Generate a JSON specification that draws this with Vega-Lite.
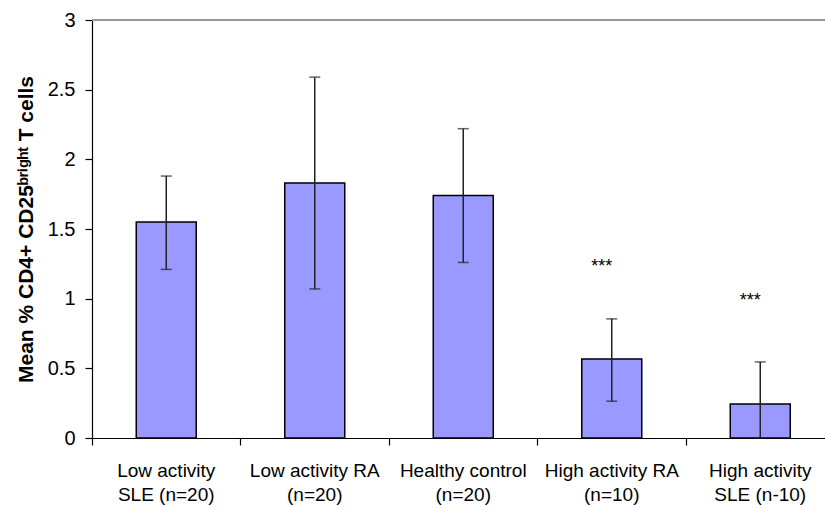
{
  "$schema": "https://vega.github.io/schema/vega-lite/v6.json",
  "autosize": "none",
  "width": 733,
  "height": 418,
  "padding": {"left": 92, "top": 20, "right": 0, "bottom": 70},
  "background": "white",
  "config": {
    "view": {"stroke": null},
    "font": "Liberation Sans",
    "axis": {"labelFont": "Liberation Sans", "titleFont": "Liberation Sans", "labelColor": "black", "titleColor": "black", "domainColor": "black", "tickColor": "black", "grid": false}
  },
  "data": {
    "values": [
      {"group": "Low activity|SLE (n=20)", "mean": 1.55, "lo": 1.21, "hi": 1.88, "sig": "", "sig_at": 0},
      {"group": "Low activity RA|(n=20)", "mean": 1.83, "lo": 1.07, "hi": 2.59, "sig": "", "sig_at": 0},
      {"group": "Healthy control|(n=20)", "mean": 1.74, "lo": 1.26, "hi": 2.22, "sig": "", "sig_at": 0},
      {"group": "High activity RA|(n=10)", "mean": 0.567, "lo": 0.264, "hi": 0.855, "sig": "***", "sig_at": 1.19},
      {"group": "High activity|SLE (n-10)", "mean": 0.244, "lo": 0, "hi": 0.546, "sig": "***", "sig_at": 0.95}
    ]
  },
  "encoding": {
    "x": {
      "field": "group",
      "type": "nominal",
      "sort": null,
      "scale": {"range": [0, 742.5], "paddingInner": 0, "paddingOuter": 0},
      "axis": {
        "title": null,
        "labelAngle": 0,
        "labelExpr": "split(datum.label, '|')",
        "labelFontSize": 19,
        "labelLineHeight": 24,
        "labelPadding": 16,
        "tickSize": 7,
        "tickWidth": 1.2,
        "domainWidth": 1.2,
        "bandPosition": 0,
        "labelLimit": 200
      }
    }
  },
  "layer": [
    {
      "mark": {"type": "rule", "color": "#999999", "strokeWidth": 2},
      "encoding": {"x": null, "y": {"datum": 3, "type": "quantitative"}}
    },
    {
      "mark": {"type": "bar", "width": 60, "fill": "#9999FF", "stroke": "black", "strokeWidth": 1.5},
      "encoding": {
        "y": {
          "field": "mean",
          "type": "quantitative",
          "scale": {"domain": [0, 3], "nice": false},
          "axis": {
            "title": "Mean % CD4+ CD25ᵇʳⁱᵍʰᵗ T cells",
            "titleFontSize": 21,
            "titleFontWeight": "bold",
            "titleX": -56,
            "values": [0, 0.5, 1, 1.5, 2, 2.5, 3],
            "format": "~g",
            "labelFontSize": 20,
            "labelPadding": 10,
            "tickSize": 7,
            "tickWidth": 1.2,
            "domainWidth": 1.2
          }
        }
      }
    },
    {
      "mark": {"type": "rule", "color": "#222222", "strokeWidth": 1.5},
      "encoding": {
        "y": {"field": "lo", "type": "quantitative"},
        "y2": {"field": "hi"}
      }
    },
    {
      "mark": {"type": "tick", "orient": "horizontal", "size": 11, "thickness": 1.5, "color": "#222222"},
      "encoding": {"y": {"field": "hi", "type": "quantitative"}}
    },
    {
      "mark": {"type": "tick", "orient": "horizontal", "size": 11, "thickness": 1.5, "color": "#222222"},
      "encoding": {"y": {"field": "lo", "type": "quantitative"}}
    },
    {
      "mark": {"type": "text", "fontSize": 18, "dx": -10, "baseline": "alphabetic", "align": "center", "color": "black"},
      "encoding": {
        "y": {"field": "sig_at", "type": "quantitative"},
        "text": {"field": "sig"}
      }
    }
  ]
}
